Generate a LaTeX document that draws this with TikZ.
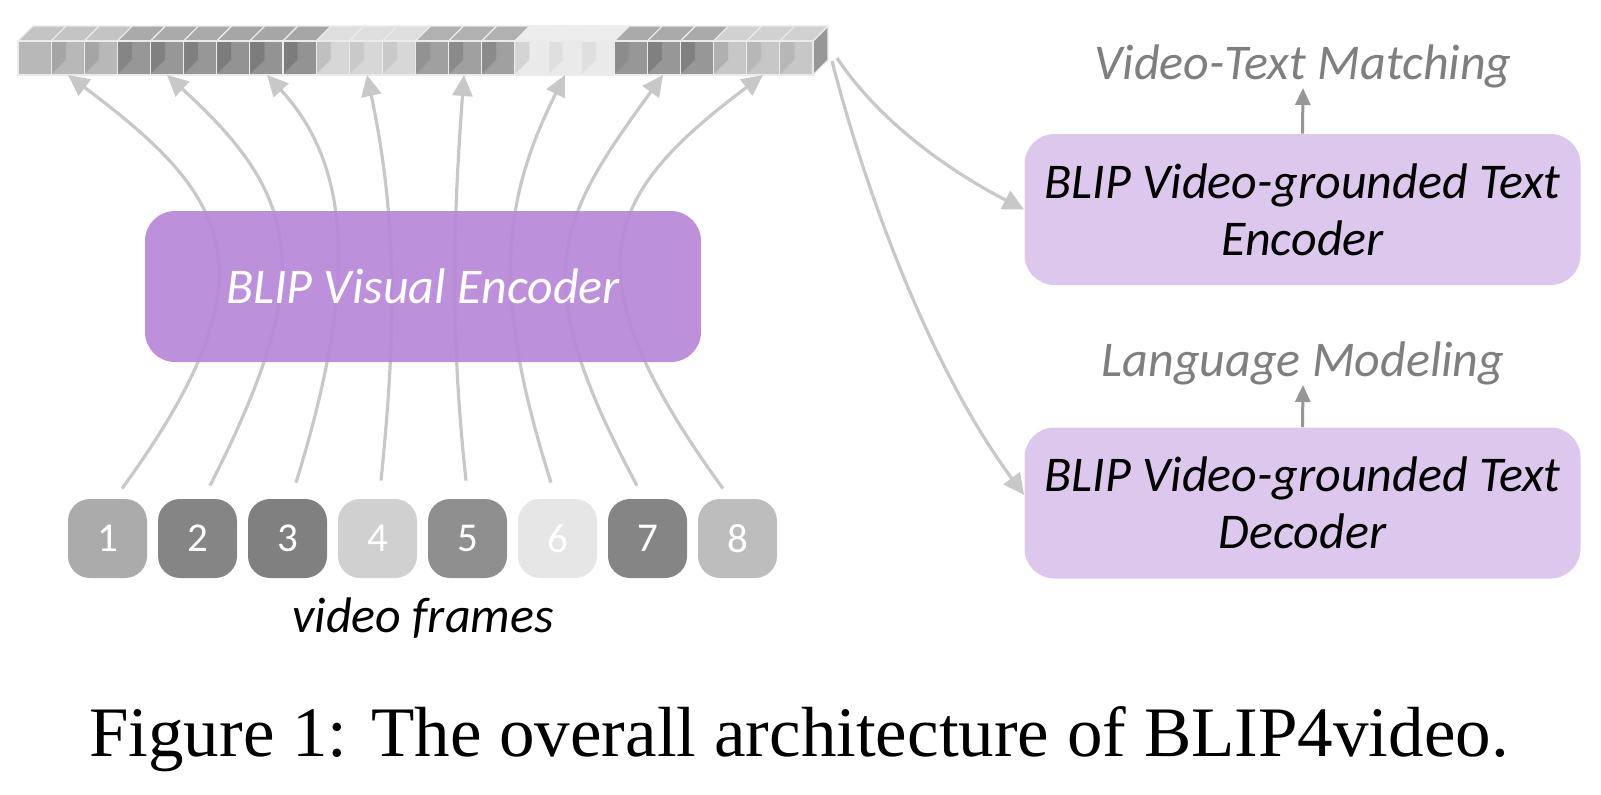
\documentclass[tikz,border=0pt]{standalone}
\usepackage{fontspec}
\setmainfont{Liberation Serif}
\newfontfamily\calfont{Carlito}
\usetikzlibrary{arrows.meta}

% frame / token greys
\definecolor{frA}{RGB}{171,171,171}
\definecolor{frB}{RGB}{133,133,133}
\definecolor{frC}{RGB}{128,128,128}
\definecolor{frD}{RGB}{208,208,208}
\definecolor{frE}{RGB}{143,143,143}
\definecolor{frF}{RGB}{230,230,230}
\definecolor{frG}{RGB}{133,133,133}
\definecolor{frH}{RGB}{189,189,189}

\begin{document}
\begin{tikzpicture}[x=0.5pt,y=0.5pt,yscale=-1,
  vframe/.style={fill=#1, rounded corners=11pt, minimum width=39.5pt, minimum height=39.5pt, inner sep=0pt, text=white, font=\calfont\fontsize{20.5}{24}\selectfont},
  encbox/.style={rounded corners=15pt, minimum width=278pt, minimum height=75.5pt, inner sep=0pt, align=center, font=\calfont\itshape\fontsize{25}{28.5}\selectfont},
  task/.style={inner sep=0pt, text={rgb, 255:red, 127; green, 127; blue, 127 }, font=\calfont\itshape\fontsize{25}{28.5}\selectfont},
  flow/.style={draw={rgb, 255:red, 200; green, 200; blue, 200 }, line width=1.6pt, -{Triangle[length=10.5pt,width=10pt]}},
  up/.style={draw={rgb, 255:red, 150; green, 150; blue, 150 }, line width=1.5pt, -{Triangle[length=8.5pt,width=7.5pt]}},
  cubeedge/.style={draw={rgb, 255:red, 235; green, 235; blue, 235 }, line width=0.6pt}]
\useasboundingbox (0,0) rectangle (1601,794);

%Shape: token strip
\foreach \n/\c in {0/frA,1/frA,2/frA,3/frB,4/frB,5/frB,6/frC,7/frC,8/frC,9/frD,10/frD,11/frD,
  12/frE,13/frE,14/frE,15/frF,16/frF,17/frF,18/frG,19/frG,20/frG,21/frH,22/frH,23/frH}{
  \draw [cubeedge, fill=\c!80!black] ({51.125+33.125*\n},41) -- ++(15,-15) -- ++(0,34) -- ++(-15,15) -- cycle ;
  \draw [cubeedge, fill=\c!70!white] ({18+33.125*\n},41) -- ++(15,-15) -- ++(33.125,0) -- ++(-15,15) -- cycle ;
  \draw [cubeedge, fill=\c, fill opacity=0.85] ({18+33.125*\n},41) rectangle ++(33.125,34) ;
}

% token ends
\coordinate (t1) at (68,75);
\coordinate (t2) at (167,75);
\coordinate (t3) at (267,75);
\coordinate (t4) at (367,75);
\coordinate (t5) at (464,75);
\coordinate (t6) at (565,75);
\coordinate (t7) at (663,75);
\coordinate (t8) at (763,75);
\coordinate (o1) at (837,58);
\coordinate (o2) at (832,61);

% Frame Nodes
\node (f1) [vframe=frA] at (107.5,538.5) {1};
\node (f2) [vframe=frB] at (197.5,538.5) {2};
\node (f3) [vframe=frC] at (287.5,538.5) {3};
\node (f4) [vframe=frD] at (377.5,538.5) {4};
\node (f5) [vframe=frE] at (467.5,538.5) {5};
\node (f6) [vframe=frF] at (557.5,538.5) {6};
\node (f7) [vframe=frG] at (647.5,538.5) {7};
\node (f8) [vframe=frH] at (737.5,538.5) {8};

%Curve Lines
\draw [flow] ([shift={(14.5,-10)}]f1.north) .. controls (281,270) and (228,195) .. (t1) ;
\draw [flow] ([shift={(12.5,-13)}]f2.north) .. controls (319,272) and (300,196) .. (t2) ;
\draw [flow] ([shift={(8.5,-16)}]f3.north) .. controls (355,292) and (355,170) .. (t3) ;
\draw [flow] ([shift={(3.5,-18)}]f4.north) .. controls (396,332) and (398,222) .. (t4) ;
\draw [flow] ([shift={(-1.5,-18)}]f5.north) .. controls (450,331) and (453,225) .. (t5) ;
\draw [flow] ([shift={(-6.5,-16)}]f6.north) .. controls (491,293) and (502,201) .. (t6) ;
\draw [flow] ([shift={(-10.5,-13)}]f7.north) .. controls (524,275) and (557,221) .. (t7) ;
\draw [flow] ([shift={(-14.5,-10)}]f8.north) .. controls (564,270) and (603,195) .. (t8) ;

% Encoder Nodes
\node (venc) [encbox, fill={rgb, 255:red, 183; green, 135; blue, 217 }, fill opacity=0.92, text opacity=1, text=white] at (423,286.5) {BLIP Visual Encoder};
\node (tenc) [encbox, fill={rgb, 255:red, 220; green, 200; blue, 237 }] at (1302.5,209.5) {BLIP Video-grounded Text\\Encoder};
\node (tdec) [encbox, fill={rgb, 255:red, 220; green, 200; blue, 237 }] at (1302.5,503) {BLIP Video-grounded Text\\Decoder};

%Curve Lines
\draw [flow] (o1) .. controls (881,124) and (953,173) .. (tenc.west) ;
\draw [flow] (o2) .. controls (869.5,206.5) and (935,375) .. ([shift={(0,-8)}]tdec.west) ;

% Text Node
\node (vtm) [task, anchor=base] at (1303,79) {Video-Text Matching};
\node (lm) [task, anchor=base] at (1303,376) {Language Modeling};
\node (vf) [anchor=base, inner sep=0pt, font=\calfont\itshape\fontsize{25}{28.5}\selectfont] at (423,632) {video frames};
\node (cap) [anchor=base, inner sep=0pt, font=\fontsize{35.5}{40}\selectfont] at (799,756) {Figure 1: The overall architecture of BLIP4video.};

%Straight Lines
\draw [up] (tenc.north) -- (vtm.south) ;
\draw [up] (tdec.north) -- (lm.south) ;

\end{tikzpicture}
\end{document}
